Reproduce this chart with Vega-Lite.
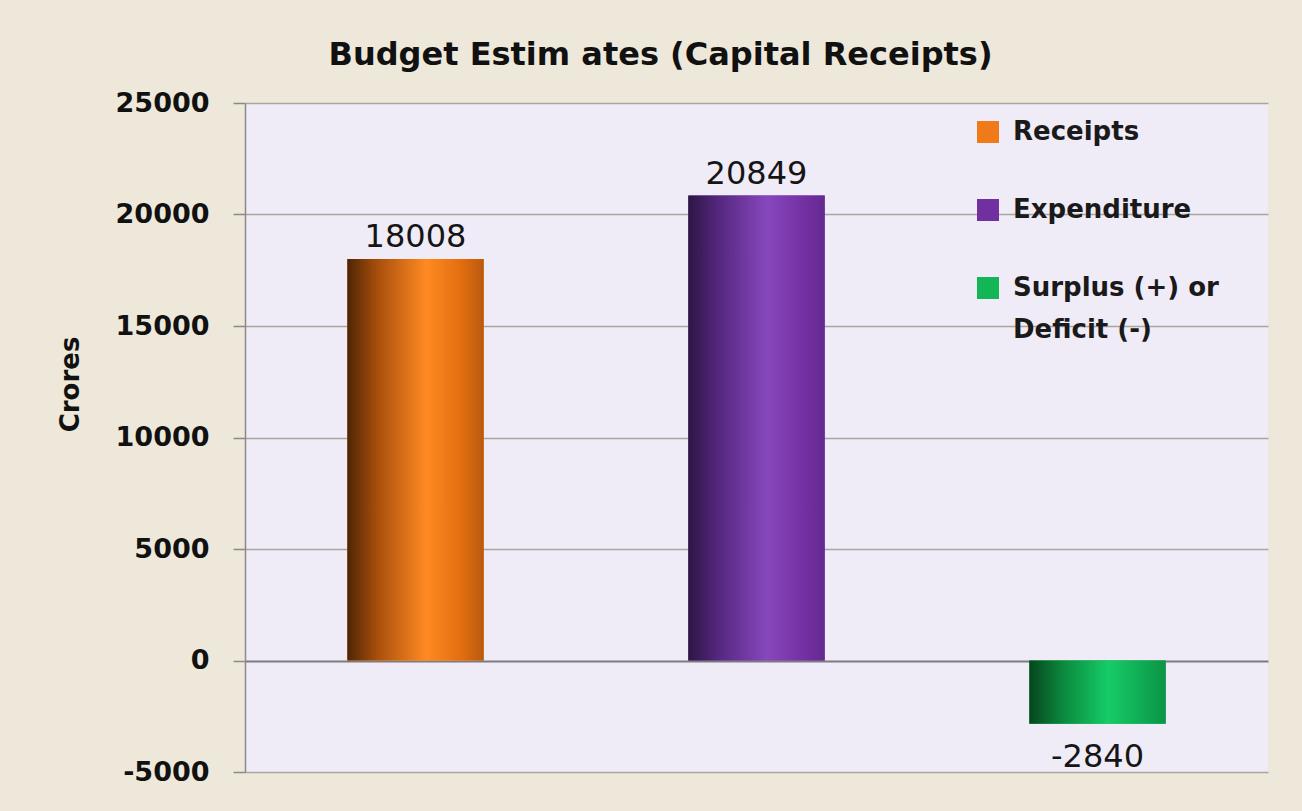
{
  "$schema": "https://vega.github.io/schema/vega-lite/v6.json",
  "autosize": "none",
  "width": 1023,
  "height": 669,
  "padding": {"left": 245, "top": 103, "right": 34, "bottom": 39},
  "background": "#EEE8DA",
  "config": {
    "view": {"fill": "#EFEBF7", "stroke": null},
    "font": "DejaVu Sans"
  },
  "title": {
    "text": "Budget Estim ates (Capital Receipts)",
    "font": "DejaVu Sans",
    "fontSize": 32,
    "fontWeight": "bold",
    "color": "#111111",
    "anchor": "middle",
    "dx": -96,
    "baseline": "alphabetic",
    "offset": -8
  },
  "data": {
    "values": [
      {"category": "Receipts", "value": 18008},
      {"category": "Expenditure", "value": 20849},
      {"category": "Surplus (+) or Deficit (-)", "value": -2840}
    ]
  },
  "encoding": {
    "x": {
      "field": "category",
      "type": "nominal",
      "sort": null,
      "axis": null,
      "scale": {"paddingInner": 0.6, "paddingOuter": 0.3}
    },
    "y": {
      "field": "value",
      "type": "quantitative",
      "scale": {"domain": [-5000, 25000], "nice": false, "zero": false},
      "axis": {
        "values": [-5000, 0, 5000, 10000, 15000, 20000, 25000],
        "labelExpr": "'' + datum.value",
        "labelFont": "DejaVu Sans",
        "labelFontSize": 27,
        "labelFontWeight": "bold",
        "labelColor": "#111111",
        "labelPadding": 24,
        "tickSize": 12,
        "tickColor": "#8a8a8a",
        "tickWidth": 1.5,
        "domainColor": "#8a8a8a",
        "domainWidth": 1.5,
        "grid": true,
        "gridColor": {"condition": {"test": "datum.value === 0", "value": "#7c7c7c"}, "value": "#aaa69c"},
        "gridWidth": {"condition": {"test": "datum.value === 0", "value": 2}, "value": 1.5},
        "title": "Crores",
        "titleFont": "DejaVu Sans",
        "titleFontSize": 26,
        "titleFontWeight": "bold",
        "titleColor": "#111111",
        "titleAngle": -90,
        "titleBaseline": "alphabetic",
        "titleAlign": "center",
        "titleX": -167,
        "titleY": 281
      }
    }
  },
  "layer": [
    {
      "mark": {"type": "bar"},
      "encoding": {
        "color": {
          "field": "category",
          "type": "nominal",
          "sort": null,
          "scale": {
            "domain": ["Receipts", "Expenditure", "Surplus (+) or Deficit (-)"],
            "range": ["#F07A1A", "#7030A0", "#12B656"]
          },
          "legend": {
            "title": null,
            "orient": "none",
            "legendX": 730,
            "legendY": 16,
            "padding": 0,
            "symbolType": "square",
            "symbolSize": 484,
            "symbolStrokeWidth": 0,
            "symbolOpacity": 1,
            "labelFont": "DejaVu Sans",
            "labelFontSize": 26,
            "labelFontWeight": "bold",
            "labelColor": "#1a1a1a",
            "labelOffset": 12,
            "labelLimit": 400,
            "labelBaseline": "middle",
            "rowPadding": 52,
            "labelExpr": "datum.label == 'Surplus (+) or Deficit (-)' ? ['Surplus (+) or', 'Deficit (-)'] : datum.label",
            "encode": {"labels": {"update": {"lineHeight": {"value": 42}}}}
          }
        }
      }
    },
    {
      "transform": [{"filter": "datum.category == 'Receipts'"}],
      "mark": {
        "type": "bar",
        "color": {
          "gradient": "linear", "x1": 0, "y1": 0, "x2": 1, "y2": 0,
          "stops": [
            {"offset": 0, "color": "#4e2504"},
            {"offset": 0.22, "color": "#a84f0c"},
            {"offset": 0.58, "color": "#ff8a22"},
            {"offset": 0.85, "color": "#e06c0e"},
            {"offset": 1, "color": "#b85a10"}
          ]
        }
      }
    },
    {
      "transform": [{"filter": "datum.category == 'Expenditure'"}],
      "mark": {
        "type": "bar",
        "color": {
          "gradient": "linear", "x1": 0, "y1": 0, "x2": 1, "y2": 0,
          "stops": [
            {"offset": 0, "color": "#2c1644"},
            {"offset": 0.22, "color": "#55277f"},
            {"offset": 0.58, "color": "#8747bd"},
            {"offset": 0.85, "color": "#7330a2"},
            {"offset": 1, "color": "#652a92"}
          ]
        }
      }
    },
    {
      "transform": [{"filter": "datum.category == 'Surplus (+) or Deficit (-)'"}],
      "mark": {
        "type": "bar",
        "color": {
          "gradient": "linear", "x1": 0, "y1": 0, "x2": 1, "y2": 0,
          "stops": [
            {"offset": 0, "color": "#07461e"},
            {"offset": 0.25, "color": "#0b8a3e"},
            {"offset": 0.58, "color": "#16cc68"},
            {"offset": 0.85, "color": "#0fa852"},
            {"offset": 1, "color": "#0c9446"}
          ]
        }
      }
    },
    {
      "transform": [{"filter": "datum.value >= 0"}],
      "mark": {"type": "text", "font": "DejaVu Sans", "fontSize": 32, "color": "#151515", "baseline": "alphabetic", "dy": -12},
      "encoding": {"text": {"field": "value", "type": "nominal"}}
    },
    {
      "transform": [{"filter": "datum.value < 0"}],
      "mark": {"type": "text", "font": "DejaVu Sans", "fontSize": 32, "color": "#151515", "baseline": "alphabetic", "dy": 43},
      "encoding": {"text": {"field": "value", "type": "nominal"}}
    }
  ]
}
